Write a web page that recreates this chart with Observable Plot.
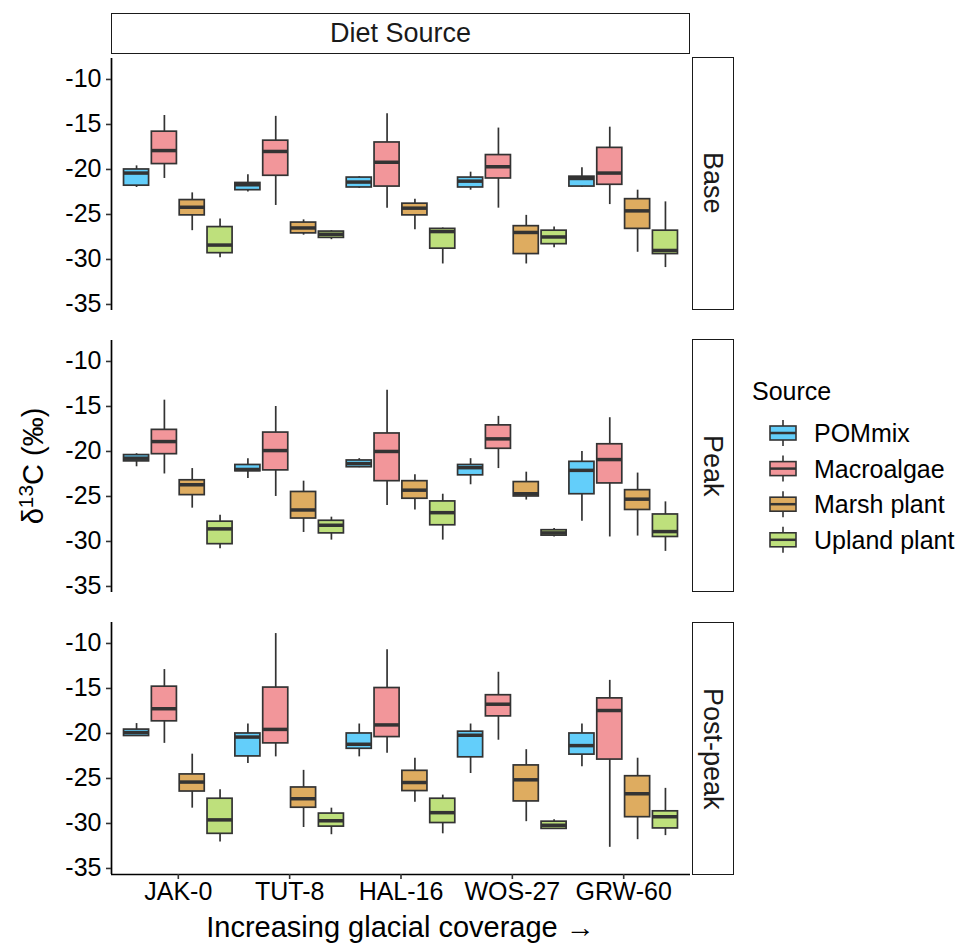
<!DOCTYPE html>
<html><head><meta charset="utf-8">
<script src="https://cdn.jsdelivr.net/npm/d3@7"></script>
<script src="https://cdn.jsdelivr.net/npm/@observablehq/plot@0.6"></script>
<style>
body{margin:0;background:#fff;font-family:"Liberation Sans",Arial,sans-serif;}
#wrap{position:relative;width:960px;height:944px;overflow:hidden;}
.strip{position:absolute;box-sizing:border-box;border:1.7px solid #1a1a1a;background:#fff;display:flex;align-items:center;justify-content:center;font-size:27px;color:#1a1a1a;white-space:nowrap;}
.vert{writing-mode:vertical-rl;}
.lab{position:absolute;white-space:nowrap;color:#000;}
</style></head><body><div id="wrap"></div><script>
// ---- data ----
const periods = ["Base", "Peak", "Post-peak"];
const sites = ["JAK-0", "TUT-8", "HAL-16", "WOS-27", "GRW-60"];
const sources = ["POMmix", "Macroalgae", "Marsh plant", "Upland plant"];
const colors = ["#63CEFA", "#F2969A", "#DEAC60", "#BEE07C"];
const yTicks = [-35, -30, -25, -20, -15, -10];
// each entry: [lower whisker, Q1, median, Q3, upper whisker], per site, per source
const baseStats = [
  [[-22.0,-21.8,-20.4,-20.0,-19.6],[-21.0,-19.4,-17.9,-15.8,-14.0],[-26.8,-25.1,-24.2,-23.4,-22.6],[-29.8,-29.3,-28.4,-26.4,-25.5]],
  [[-22.5,-22.3,-21.7,-21.5,-20.6],[-24.0,-20.7,-18.0,-16.8,-14.1],[-27.3,-27.1,-26.5,-25.9,-25.6],[-27.8,-27.6,-27.2,-26.9,-26.8]],
  [[-22.1,-22.0,-21.4,-20.9,-20.8],[-24.3,-21.9,-19.2,-17.0,-13.8],[-26.7,-25.1,-24.3,-23.8,-23.3],[-30.5,-28.8,-26.9,-26.6,-26.5]],
  [[-22.3,-22.0,-21.3,-20.9,-20.3],[-24.3,-21.0,-19.7,-18.4,-15.4],[-30.5,-29.4,-27.0,-26.3,-25.1],[-28.7,-28.3,-27.5,-26.8,-26.4]],
  [[-22.0,-21.9,-21.0,-20.8,-19.8],[-23.9,-21.7,-20.4,-17.6,-15.3],[-29.2,-26.6,-24.6,-23.3,-22.3],[-30.9,-29.4,-29.0,-26.8,-23.6]]
];
const peakStats = [
  [[-21.7,-21.1,-20.75,-20.4,-20.25],[-22.5,-20.3,-18.9,-17.6,-14.3],[-26.3,-24.85,-23.7,-23.2,-21.9],[-30.8,-30.3,-28.6,-27.8,-27.1]],
  [[-23.0,-22.2,-22.0,-21.5,-20.8],[-25.0,-22.1,-19.9,-17.9,-15.0],[-29.0,-27.45,-26.5,-24.5,-23.3],[-29.85,-29.1,-28.2,-27.7,-27.3]],
  [[-21.8,-21.75,-21.35,-21.0,-20.8],[-26.0,-23.3,-20.0,-18.0,-13.2],[-26.5,-25.25,-24.3,-23.3,-22.6],[-29.85,-28.2,-26.8,-25.55,-24.75]],
  [[-23.7,-22.65,-21.8,-21.5,-20.8],[-21.9,-19.7,-18.6,-17.1,-16.1],[-25.4,-25.0,-24.7,-23.4,-22.3],[-29.5,-29.35,-29.05,-28.75,-28.55]],
  [[-27.75,-24.75,-22.1,-21.15,-20.0],[-29.5,-23.55,-20.9,-19.2,-16.25],[-29.4,-26.5,-25.3,-24.3,-22.4],[-31.1,-29.5,-28.9,-27.0,-25.6]]
];
const postStats = [
  [[-20.3,-20.28,-19.9,-19.57,-18.9],[-21.1,-18.65,-17.25,-14.8,-12.9],[-28.3,-26.45,-25.4,-24.55,-22.3],[-32.05,-31.15,-29.6,-27.25,-26.25]],
  [[-23.35,-22.55,-20.4,-20.0,-18.95],[-22.6,-21.1,-19.55,-14.9,-8.9],[-30.45,-28.25,-27.25,-26.0,-24.1],[-31.25,-30.35,-29.7,-28.9,-28.3]],
  [[-22.6,-21.7,-21.2,-20.0,-18.95],[-22.2,-20.4,-19.05,-14.95,-10.7],[-27.65,-26.4,-25.45,-24.15,-22.75],[-31.15,-29.95,-28.8,-27.25,-26.85]],
  [[-24.45,-22.65,-20.2,-19.8,-18.95],[-20.75,-18.1,-16.75,-15.75,-13.2],[-29.8,-27.55,-25.15,-23.55,-21.8],[-30.65,-30.6,-30.2,-29.8,-29.6]],
  [[-23.7,-22.35,-21.35,-20.0,-18.95],[-32.65,-22.9,-17.45,-16.1,-14.1],[-31.8,-29.3,-26.7,-24.75,-22.75],[-31.35,-30.55,-29.25,-28.65,-26.1]]
];
const statsByPeriod = [baseStats, peakStats, postStats];

// ---- layout options (discrete x mapped to site index, boxes dodged within it) ----
const dodge = 0.25, boxW = 0.225;
const xDomain = [-0.6, sites.length - 1 + 0.6];
const yDomain = [-35.67, -7.67];
const siteIdx = sites.map((_, i) => i);

const rows = [];
periods.forEach((p, pi) => statsByPeriod[pi].forEach((siteStats, i) => siteStats.forEach((s, k) => {
  const xc = i + (k - (sources.length - 1) / 2) * dodge;
  rows.push({period: p, site: sites[i], source: sources[k], xc, x1: xc - boxW / 2, x2: xc + boxW / 2,
             lo: s[0], q1: s[1], med: s[2], q3: s[3], hi: s[4]});
})));

const ink = "#333333";
const chart = Plot.plot({
  width: 960, height: 944,
  marginLeft: 111, marginRight: 270, marginTop: 56.7, marginBottom: 69,
  style: {fontFamily: "'Liberation Sans', Arial, sans-serif", fontSize: "25px", color: "#000", background: "transparent"},
  x: {type: "linear", domain: xDomain, axis: null},
  y: {domain: yDomain, axis: null},
  fy: {domain: periods, paddingInner: 0.105, paddingOuter: 0, axis: null, label: null},
  color: {domain: sources, range: colors},
  marks: [
    Plot.ruleX([xDomain[0]], {stroke: "#000", strokeWidth: 1.7}),
    Plot.ruleY([{p: periods[periods.length - 1], y: yDomain[0]}], {fy: "p", y: "y", stroke: "#000", strokeWidth: 1.7}),
    Plot.axisY({ticks: yTicks, tickFormat: d => String(d), anchor: "left", tickSize: 5, tickPadding: 5,
                stroke: ink, strokeWidth: 1.6, fill: "#000", fontSize: 25}),
    Plot.axisX({ticks: siteIdx, tickFormat: i => sites[i], anchor: "bottom", tickSize: 5, tickPadding: 3,
                stroke: ink, strokeWidth: 1.6, fill: "#000", fontSize: 25}),
    Plot.ruleX(rows, {fy: "period", x: "xc", y1: "lo", y2: "hi", stroke: ink, strokeWidth: 1.7}),
    Plot.rect(rows, {fy: "period", x1: "x1", x2: "x2", y1: "q1", y2: "q3", fill: "source", stroke: ink, strokeWidth: 1.7}),
    Plot.ruleY(rows, {fy: "period", x1: "x1", x2: "x2", y: "med", stroke: ink, strokeWidth: 3.5})
  ]
});

const wrap = document.getElementById("wrap");
wrap.appendChild(chart);

// ---- strips, axis titles and legend placed from the plot's own scales ----
const fyS = chart.scale("fy");
const xS = chart.scale("x");
const band = d3.scaleBand().domain(fyS.domain).range(fyS.range)
  .paddingInner(fyS.paddingInner ?? 0.105).paddingOuter(fyS.paddingOuter ?? 0);
const xr = xS.range;
const panelTop = band(periods[0]);
const panelBottom = band(periods[periods.length - 1]) + band.bandwidth();

function addDiv(cls, style, html) {
  const d = document.createElement("div");
  d.className = cls; d.setAttribute("style", style); d.innerHTML = html;
  wrap.appendChild(d); return d;
}
addDiv("strip", `left:${xr[0]}px;top:${panelTop - 43.4}px;width:${xr[1] - xr[0]}px;height:41px;`, "Diet Source");
periods.forEach(p => {
  addDiv("strip vert", `left:${xr[1] + 1.7}px;top:${band(p)}px;width:42px;height:${band.bandwidth()}px;`, p);
});
addDiv("lab", `left:${(xr[0] + xr[1]) / 2}px;top:927px;transform:translate(-50%,-50%);font-size:29px;`,
  "Increasing glacial coverage \u2192");
addDiv("lab", `left:33px;top:${(panelTop + panelBottom) / 2}px;transform:translate(-50%,-50%) rotate(-90deg);font-size:29px;`,
  "\u03B4<sup style=\"font-size:0.72em;vertical-align:0.45em;line-height:0\">13</sup>C (\u2030)");

// legend
const lg = d3.select(wrap).append("svg")
  .attr("width", 220).attr("height", 200)
  .style("position", "absolute").style("left", "740px").style("top", "370px")
  .style("font-family", "'Liberation Sans', Arial, sans-serif");
lg.append("text").attr("x", 12).attr("y", 30).attr("font-size", 25).attr("fill", "#000").text("Source");
sources.forEach((s, k) => {
  const cy = 63 + k * 35.6, cx = 43;
  const g = lg.append("g");
  g.append("line").attr("x1", cx).attr("x2", cx).attr("y1", cy - 13).attr("y2", cy + 13).attr("stroke", ink).attr("stroke-width", 1.6);
  g.append("rect").attr("x", cx - 13).attr("y", cy - 7).attr("width", 26).attr("height", 14)
    .attr("fill", colors[k]).attr("stroke", ink).attr("stroke-width", 1.6);
  g.append("line").attr("x1", cx - 13).attr("x2", cx + 13).attr("y1", cy).attr("y2", cy).attr("stroke", ink).attr("stroke-width", 2.5);
  g.append("text").attr("x", 74).attr("y", cy).attr("dy", "0.36em").attr("font-size", 25).attr("fill", "#000").text(s);
});
</script></body></html>
